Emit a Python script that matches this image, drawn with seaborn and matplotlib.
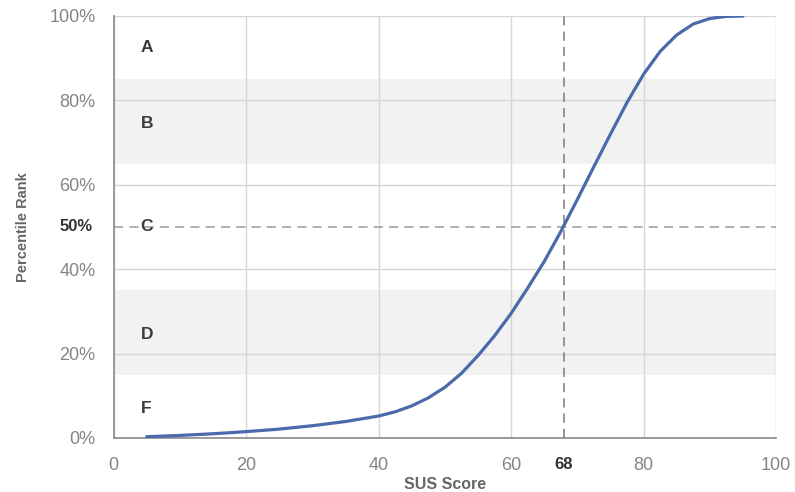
import numpy as np
import pandas as pd
import matplotlib
matplotlib.use('Agg')
import matplotlib.pyplot as plt
import seaborn as sns
from matplotlib.ticker import FixedLocator

# SUS score vs percentile rank
sus_score = [5, 10, 15, 20, 25, 30, 35, 40, 42.5, 45, 47.5, 50, 52.5, 55, 57.5, 60,
             62.5, 65, 67.5, 70, 72.5, 75, 77.5, 80, 82.5, 85, 87.5, 90, 92.5, 95]
percentile = [0.3, 0.6, 1.0, 1.5, 2.1, 2.9, 3.9, 5.2, 6.2, 7.6, 9.5, 12.0, 15.3, 19.5,
              24.2, 29.5, 35.5, 41.8, 48.9, 56.5, 64.3, 72.0, 79.5, 86.2, 91.6, 95.5,
              98.1, 99.4, 99.9, 100.0]

grade_letters = ['A', 'B', 'C', 'D', 'F']
grade_y = [92.5, 74.5, 50, 24.5, 7]
grade_bands = [(65, 85), (15, 35)]

x_ticks = [0, 20, 40, 60, 80, 100]
y_ticks = [0, 20, 40, 60, 80, 100]
mean_score = 68
mean_pct = 50

df = pd.DataFrame({'SUS Score': sus_score, 'Percentile Rank': percentile})

sns.set_theme(style='whitegrid')
plt.rcParams['font.family'] = ['Liberation Sans', 'DejaVu Sans']

fig = plt.figure(figsize=(7.95, 4.92), dpi=100)
ax = fig.add_axes([0.1428, 0.1098, 0.8334, 0.8577])

for lo, hi in grade_bands:
    ax.axhspan(lo, hi, color='#f2f2f2', zorder=0, lw=0)

sns.lineplot(data=df, x='SUS Score', y='Percentile Rank', ax=ax,
             color='#4a6aab', linewidth=2.3, zorder=4,
             solid_joinstyle='round', solid_capstyle='round')

ax.axvline(mean_score, ymin=0, ymax=1, color='#7a7a7a', linestyle=(0, (6, 4)),
           linewidth=1.1, zorder=3)
ax.axhline(mean_pct, color='#9a9a9a', linestyle=(0, (6, 4)), linewidth=1.1, zorder=3)

for letter, y in zip(grade_letters, grade_y):
    ax.text(5, y, letter, ha='center', va='center', fontsize=12.5,
            fontweight='bold', color='#3a3a3a', zorder=5)

ax.set_xlim(0, 100)
ax.set_ylim(0, 100)
ax.xaxis.set_major_locator(FixedLocator(x_ticks))
ax.yaxis.set_major_locator(FixedLocator(y_ticks))
ax.set_xticklabels([str(v) for v in x_ticks])
ax.set_yticklabels([f'{v}%' for v in y_ticks])
ax.tick_params(axis='both', length=0, labelsize=13, labelcolor='#858585')
ax.tick_params(axis='x', pad=14)
ax.tick_params(axis='y', pad=13)

# highlighted extra labels
ax.text(mean_score, -4.6, str(mean_score), ha='center', va='top',
        fontsize=12, fontweight='bold', color='#333333')
ax.text(-3.2, mean_pct, f'{mean_pct}%', ha='right', va='center',
        fontsize=12, fontweight='bold', color='#333333')

ax.grid(True, color='#d6d6d6', linewidth=1)
for side in ['top', 'right']:
    ax.spines[side].set_visible(False)
for side in ['left', 'bottom']:
    ax.spines[side].set_color('#8a8a8a')
    ax.spines[side].set_linewidth(1.2)

ax.set_xlabel('SUS Score', fontsize=11.5, fontweight='bold', color='#666666', labelpad=2)
ax.set_ylabel('Percentile Rank', fontsize=10.5, fontweight='bold', color='#666666', labelpad=14)

fig.savefig('out.png', dpi=100, facecolor='white')
plt.close(fig)
